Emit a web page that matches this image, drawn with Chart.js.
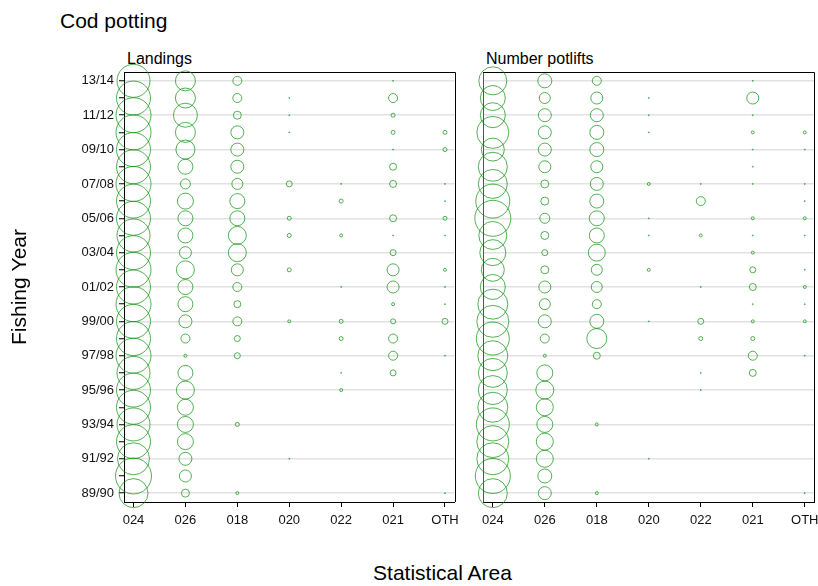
<!DOCTYPE html>
<html><head><meta charset="utf-8">
<script src="https://cdn.jsdelivr.net/npm/chart.js@4.4.0/dist/chart.umd.min.js"></script>
<style>
body{margin:0;background:#fff;width:818px;height:586px;position:relative;overflow:hidden;font-family:"Liberation Sans",Arial,sans-serif;color:#000}
canvas{position:absolute;top:0}
.t{position:absolute;white-space:nowrap;line-height:1}
</style></head><body>
<div class="t" style="left:60px;top:10px;font-size:21px">Cod potting</div>
<div class="t" style="left:127px;top:51px;font-size:16px">Landings</div>
<div class="t" style="left:486px;top:51px;font-size:16px">Number potlifts</div>
<div class="t" style="left:0;width:885px;text-align:center;top:562px;font-size:21px">Statistical Area</div>
<canvas id="c1" width="460" height="545" style="left:0"></canvas>
<canvas id="c2" width="358" height="545" style="left:460px"></canvas>
<script>
// Categories
const years = ['89/90','90/91','91/92','92/93','93/94','94/95','95/96','96/97','97/98','98/99','99/00','00/01','01/02','02/03','03/04','04/05','05/06','06/07','07/08','08/09','09/10','10/11','11/12','12/13','13/14'];
const areas = ['024','026','018','020','022','021','OTH'];

// Landings: relative bubble size per year (89/90 -> 13/14), null = none
const land024 = [14.5,18,16,17,16.5,17,17,16.5,17.5,17,17,17.5,17,17.5,17,16.5,17,17,17.5,17,17,17.5,17.5,17,16.5];
const land026 = [4,6,6.5,8,8,8,9,7.5,1.5,4.5,6.5,7.5,7.5,9,6,7.5,7.5,8,5,7.5,9.5,10,12,10,10];
const land018 = [1.5,null,null,null,2,null,null,null,3,3,4.5,3.5,4.5,6,9,9,7.5,7.5,5.5,6.5,6.5,6.5,4,4.5,4.5];
const land020 = [null,null,0.5,null,null,null,null,null,null,null,1.5,null,null,2,null,2,2,null,3,null,null,0.5,0.5,0.5,null];
const land022 = [null,null,null,null,null,null,1.5,0.5,null,2,2,null,0.5,null,null,1.5,null,2,0.5,null,null,null,null,null,null];
const land021 = [null,null,null,null,null,null,null,3,4.5,4.5,2.5,1.5,6,6,3,0.5,3.5,null,3.5,3.5,0.5,2,2,4.5,0.5];
const landOTH = [0.5,null,null,null,null,null,null,null,0.5,null,3,0.5,0.5,1.5,null,0.5,2,0.5,0.5,null,2,2,null,null,null];

// Number of potlifts: relative bubble size per year (89/90 -> 13/14)
const pot024 = [14.5,17.5,16,16,16.5,15,14.5,14.5,15,16.5,16,15,12.5,11.5,13,14,18,17,14.5,14.5,11.5,16,12.5,12.5,14];
const pot026 = [6.5,7,8.5,8.5,8,8.5,9,8,1.5,4.5,6.5,5.5,6,4,3,4,5,4,4,6,6.5,6.5,6.5,5.5,7];
const pot018 = [1.5,null,null,null,1.5,null,null,null,3.5,10,7,4.5,5.5,5.5,8.5,7.5,7.5,7,6.5,6,7,7,6.5,6,4.5];
const pot020 = [null,null,0.5,null,null,null,null,null,null,null,0.5,null,null,1.5,null,0.5,0.5,null,1.5,null,null,0.5,0.5,0.5,null];
const pot022 = [null,null,null,null,null,null,0.5,0.5,null,2,3,null,0.5,null,null,1.5,null,4.5,0.5,null,null,null,null,null,null];
const pot021 = [null,null,null,null,null,null,null,3.5,4.5,2,1.5,0.5,3.5,3,1.5,0.5,1.5,null,0.5,0.5,0.5,1.5,0.5,6,0.5];
const potOTH = [0.5,null,null,null,null,null,null,null,0.5,null,1.5,0.5,1.5,0.5,null,0.5,1.5,0.5,0.5,null,0.5,1.5,null,null,null];

const landings = [land024,land026,land018,land020,land022,land021,landOTH];
const potlifts = [pot024,pot026,pot018,pot020,pot022,pot021,potOTH];

const FONT = '"Liberation Sans", Arial, sans-serif';
Chart.defaults.font.family = FONT;

const frame = {
  id: 'frame',
  beforeDatasetsDraw(chart) {
    const {ctx, chartArea: a} = chart;
    const t = Math.round(a.top) + 0.5, r = Math.round(a.right) + 0.5;
    ctx.save();
    ctx.strokeStyle = '#000';
    ctx.lineWidth = 1;
    ctx.beginPath();
    ctx.moveTo(a.left, t); ctx.lineTo(r, t); ctx.lineTo(r, a.bottom);
    ctx.stroke();
    ctx.restore();
  }
};

function buildDatasets(series) {
  return series.map((vals, ai) => ({
    label: areas[ai],
    data: vals.map((v, yi) => v == null ? null : {x: ai, y: yi, r: v}).filter(p => p),
    borderColor: 'rgba(0,140,0,0.68)',
    backgroundColor: 'rgba(0,0,0,0)',
    borderWidth: 1,
    hoverRadius: 0,
    clip: false
  }));
}

function makeChart(id, series, isLeft) {
  return new Chart(document.getElementById(id), {
    type: 'bubble',
    data: {datasets: buildDatasets(series)},
    plugins: [frame],
    options: {
      responsive: false, animation: false, devicePixelRatio: 1, events: [],
      layout: {autoPadding: false, padding: {top: 72, right: isLeft ? 5.5 : 3.7, bottom: 0, left: 0}},
      plugins: {legend: {display: false}, tooltip: {enabled: false}, title: {display: false}},
      scales: {
        x: {
          type: 'linear', min: -0.183, max: 6.183,
          afterBuildTicks: s => { s.ticks = areas.map((_, i) => ({value: i})); },
          afterFit: s => { s.height = 43; s.paddingLeft = 0; s.paddingRight = 0; },
          ticks: {callback: v => areas[v], autoSkip: false, maxRotation: 0, font: {size: 13}, color: '#111', padding: 6},
          grid: {drawOnChartArea: false, drawTicks: true, tickLength: 5, tickColor: '#000'},
          border: {display: true, color: '#000', width: 1}
        },
        y: {
          type: 'linear', min: -0.515, max: 24.515,
          afterBuildTicks: s => { s.ticks = years.map((_, i) => ({value: i})); },
          afterFit: s => { s.width = isLeft ? 124 : 23.3; s.paddingTop = 0; s.paddingBottom = 0; },
          ticks: {display: isLeft, callback: v => (v % 2 === 0 ? years[v] : ''), autoSkip: false, font: {size: 13}, color: '#111', padding: 5},
          grid: {
            color: c => (c.tick && c.tick.value % 2 === 0) ? '#e2e2e2' : 'rgba(0,0,0,0)',
            lineWidth: 1.5,
            drawTicks: isLeft, tickLength: 5, tickColor: '#000', tickWidth: 1
          },
          border: {display: true, color: isLeft ? '#000' : '#555', width: 1},
          title: {display: isLeft, text: 'Fishing Year', font: {size: 21}, color: '#000', padding: {top: 8, bottom: 0}}
        }
      }
    }
  });
}

makeChart('c1', landings, true);
makeChart('c2', potlifts, false);
</script>
</body></html>
